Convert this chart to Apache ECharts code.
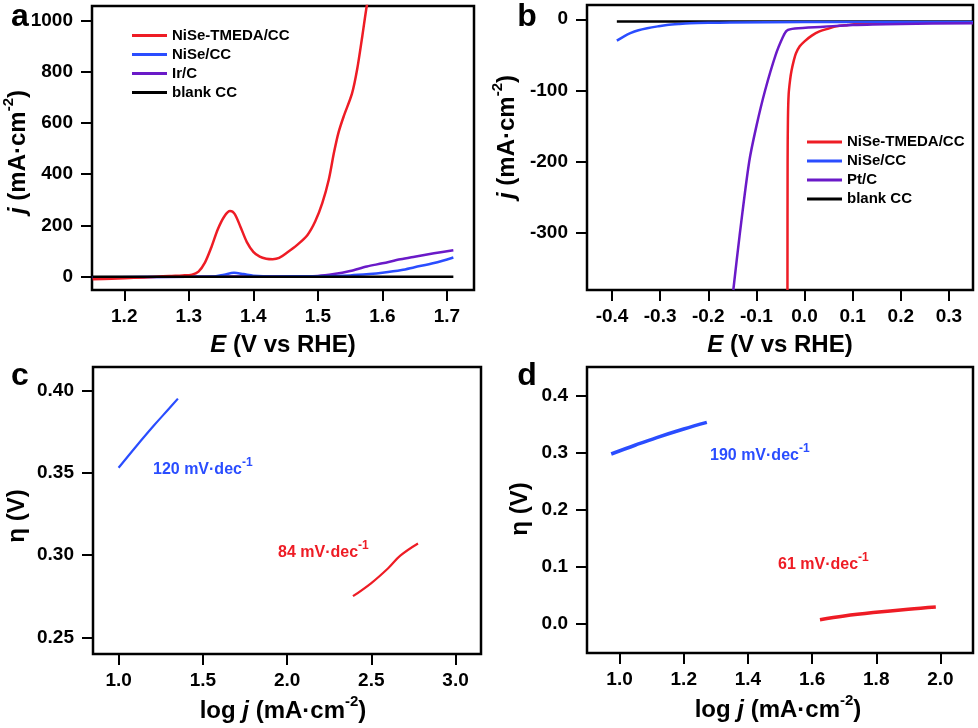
<!DOCTYPE html>
<html>
<head>
<meta charset="utf-8">
<script src="https://cdn.jsdelivr.net/npm/echarts@6/dist/echarts.min.js"></script>
<style>html,body{margin:0;padding:0;background:#fff;}#c{width:978px;height:728px;}</style>
</head>
<body>
<div id="c"></div>
<script>
// ---------- Panel a (OER LSV) ----------
const aRedE = [1.151,1.18,1.20,1.23,1.25,1.27,1.29,1.305,1.315,1.325,1.335,1.345,1.355,1.364,1.371,1.38,1.39,1.40,1.41,1.42,1.43,1.44,1.453,1.468,1.484,1.496,1.507,1.517,1.525,1.532,1.54,1.553,1.561,1.569,1.576,1.582];
const aRedJ = [-10,-8,-6,-3,0,3,5,8,20,55,115,185,235,256,245,195,135,97,78,70,68,73,95,124,163,216,288,379,484,562,625,715,810,940,1059,1130];
const aBlueE = [1.151,1.30,1.34,1.355,1.37,1.385,1.40,1.43,1.50,1.55,1.58,1.60,1.63,1.65,1.68,1.71];
const aBlueJ = [-2,0,1,8,15,10,4,1,2,5,10,15,26,37,53,75];
const aPurpE = [1.151,1.30,1.45,1.50,1.525,1.55,1.576,1.60,1.628,1.65,1.68,1.71];
const aPurpJ = [-3,0,1,3,10,22,40,52,68,78,91,103];
const aBlackE = [1.151,1.71];
const aBlackJ = [0,0];
const aXTicks = [1.2,1.3,1.4,1.5,1.6,1.7];
const aYTicks = [0,200,400,600,800,1000];

// ---------- Panel b (HER LSV) ----------
const bRedE = [-0.0355,-0.0352,-0.0345,-0.033,-0.030,-0.027,-0.022,-0.018,-0.010,0.0,0.015,0.031,0.05,0.0665,0.09,0.108,0.2,0.35];
const bRedJ = [-380,-200,-140,-105,-85,-72,-57,-48,-38,-31,-23,-17,-13,-10,-8,-6.6,-5,-4.5];
const bBlueE = [-0.39,-0.375,-0.362,-0.345,-0.327,-0.305,-0.286,-0.26,-0.238,-0.2,-0.155,0.0,0.35];
const bBlueJ = [-30,-24,-19.6,-15.5,-12.7,-10,-8,-6.5,-5.6,-5,-4.7,-4,-4];
const bPurpE = [-0.148,-0.135,-0.115,-0.1,-0.082,-0.06,-0.045,-0.037,-0.02,0.04,0.1,0.2,0.35];
const bPurpJ = [-380,-304,-200,-150,-100,-50,-25,-16,-13,-10.5,-8,-6.5,-5.5];
const bBlackE = [-0.39,0.35];
const bBlackJ = [-3,-3];
const bXTicks = [-0.4,-0.3,-0.2,-0.1,0.0,0.1,0.2,0.3];
const bYTicks = [-300,-200,-100,0];

// ---------- Panel c (OER Tafel) ----------
const cBlueX = [1.0,1.1,1.208,1.3,1.352];
const cBlueY = [0.353,0.3655,0.3785,0.389,0.395];
const cRedX = [2.391,2.5,2.6,2.672,2.777];
const cRedY = [0.275,0.283,0.292,0.2996,0.307];
const cXTicks = [1.0,1.5,2.0,2.5,3.0];
const cYTicks = [0.25,0.30,0.35,0.40];

// ---------- Panel d (HER Tafel) ----------
const dBlueX = [0.974,1.05,1.116,1.2,1.272];
const dBlueY = [0.2977,0.3135,0.3265,0.3415,0.3532];
const dRedX = [1.6246,1.7,1.7905,1.9,1.9856];
const dRedY = [0.007,0.0135,0.0195,0.0255,0.0293];
const dXTicks = [1.0,1.2,1.4,1.6,1.8,2.0];
const dYTicks = [0.0,0.1,0.2,0.3,0.4];

const RED = '#ee1c25', BLUE = '#2a4dff', PURP = '#6a1ac8', BLACK = '#000000';
const FONT = '"Liberation Sans", Arial, sans-serif';

function pairs(xs, ys){ return xs.map((x,i)=>[x, ys[i]]); }

function xAx(idx, min, max, ticks, fmt){
  return {type:'value', gridIndex: idx, min:min, max:max,
    axisLine:{show:false, onZero:false}, splitLine:{show:false},
    axisTick:{show:true, inside:false, length:11, lineStyle:{color:'#000', width:2}, customValues: ticks},
    axisLabel:{show:true, margin:17, color:'#000', fontFamily:FONT, fontWeight:'bold', fontSize:19, customValues: ticks, formatter: fmt}};
}
function yAx(idx, min, max, ticks, fmt){
  return {type:'value', gridIndex: idx, min:min, max:max,
    axisLine:{show:false, onZero:false}, splitLine:{show:false},
    axisTick:{show:true, inside:false, length:11, lineStyle:{color:'#000', width:2}, customValues: ticks},
    axisLabel:{show:true, margin:19, color:'#000', fontFamily:FONT, fontWeight:'bold', fontSize:19, customValues: ticks, formatter: fmt}};
}
function line(name, xi, data, color, width, sm){
  return {type:'line', name:name, xAxisIndex:xi, yAxisIndex:xi, data:data, showSymbol:false, symbol:'none',
    smooth:(sm === undefined ? 0.3 : sm), clip:true, lineStyle:{color:color, width:width}, itemStyle:{color:color}, emphasis:{disabled:true}};
}

const gridStyle = {show:true, borderColor:'#000', borderWidth:2.5, backgroundColor:'transparent'};

const titleRich = {
  i:{fontStyle:'italic', fontWeight:'bold', fontSize:24, fontFamily:FONT, fill:'#000'},
  sup:{fontWeight:'bold', fontSize:15, fontFamily:FONT, padding:[0,0,18,0], fill:'#000'}
};
function gtext(x, y, text, opts){
  opts = opts || {};
  return {type:'text', x:x, y:y, rotation: opts.rot || 0, z:100,
    style:{text:text, fill: opts.color || '#000', font: opts.font || ('bold 24px ' + FONT),
      align: opts.align || 'center', verticalAlign:'middle', rich: opts.rich || titleRich}};
}
const annRich = function(col){ return {
  sup:{fontWeight:'bold', fontSize:12, fontFamily:FONT, padding:[0,0,14,0], fill:col}
};};

const chart = echarts.init(document.getElementById('c'), null, {renderer:'canvas'});
chart.setOption({
  animation:false,
  backgroundColor:'#fff',
  textStyle:{fontFamily:FONT},
  grid:[
    Object.assign({left:92, top:6, width:382, height:284}, gridStyle),
    Object.assign({left:587, top:5, width:386, height:285}, gridStyle),
    Object.assign({left:93, top:367, width:388, height:287}, gridStyle),
    Object.assign({left:587, top:367, width:386, height:286}, gridStyle)
  ],
  xAxis:[
    xAx(0, 1.15, 1.742, aXTicks, v=>v.toFixed(1)),
    xAx(1, -0.452, 0.35, bXTicks, v=>v.toFixed(1)),
    xAx(2, 0.848, 3.151, cXTicks, v=>v.toFixed(1)),
    xAx(3, 0.8985, 2.1015, dXTicks, v=>v.toFixed(1))
  ],
  yAxis:[
    yAx(0, -52, 1056, aYTicks, v=>String(Math.round(v))),
    yAx(1, -380, 20, bYTicks, v=>String(Math.round(v))),
    yAx(2, 0.2399, 0.4142, cYTicks, v=>v.toFixed(2)),
    yAx(3, -0.0514, 0.4503, dYTicks, v=>v.toFixed(1))
  ],
  legend:[
    {data:['NiSe-TMEDA/CC','NiSe/CC','Ir/C','blank CC'], orient:'vertical', left:127, top:23, icon:'rect',
      itemWidth:35, itemHeight:3, itemGap:4, selectedMode:false,
      textStyle:{fontFamily:FONT, fontWeight:'bold', fontSize:15, color:'#000'}},
    {data:['NiSe-TMEDA/CC','NiSe/CC','Pt/C','blank CC'], orient:'vertical', left:802, top:129.5, icon:'rect',
      itemWidth:35, itemHeight:3, itemGap:4, selectedMode:false,
      textStyle:{fontFamily:FONT, fontWeight:'bold', fontSize:15, color:'#000'}}
  ],
  series:[
    line('Ir/C', 0, pairs(aPurpE, aPurpJ), PURP, 2.5),
    line('NiSe/CC', 0, pairs(aBlueE, aBlueJ), BLUE, 2.5),
    line('NiSe-TMEDA/CC', 0, pairs(aRedE, aRedJ), RED, 2.5),
    line('blank CC', 0, pairs(aBlackE, aBlackJ), BLACK, 2.5),
    line('blank CC', 1, pairs(bBlackE, bBlackJ), BLACK, 2.5),
    line('NiSe-TMEDA/CC', 1, pairs(bRedE, bRedJ), RED, 2.5),
    line('NiSe/CC', 1, pairs(bBlueE, bBlueJ), BLUE, 2.5),
    line('Pt/C', 1, pairs(bPurpE, bPurpJ), PURP, 2.5),
    line('', 2, pairs(cBlueX, cBlueY), BLUE, 2.2, 0.4),
    line('', 2, pairs(cRedX, cRedY), RED, 2.2, 0.4),
    line('', 3, pairs(dBlueX, dBlueY), BLUE, 3.5, 0.4),
    line('', 3, pairs(dRedX, dRedY), RED, 3.5, 0.4)
  ],
  graphic:[
    gtext(20, 17, 'a', {font:'bold 32px ' + FONT}),
    gtext(527, 17, 'b', {font:'bold 32px ' + FONT}),
    gtext(20, 376, 'c', {font:'bold 32px ' + FONT}),
    gtext(527, 376, 'd', {font:'bold 32px ' + FONT}),
    gtext(283, 345, '{i|E} (V vs RHE)'),
    gtext(780, 345, '{i|E} (V vs RHE)'),
    gtext(283, 711, 'log {i|j} (mA·cm{sup|-2})'),
    gtext(778, 710, 'log {i|j} (mA·cm{sup|-2})'),
    gtext(18, 152, '{i|j} (mA·cm{sup|-2})', {rot:Math.PI/2}),
    gtext(507, 137, '{i|j} (mA·cm{sup|-2})', {rot:Math.PI/2}),
    gtext(17, 516, 'η (V)', {rot:Math.PI/2}),
    gtext(520, 509, 'η (V)', {rot:Math.PI/2}),
    gtext(153, 470, '120 mV·dec{sup|-1}', {align:'left', color:BLUE, font:'bold 16px ' + FONT, rich:annRich(BLUE)}),
    gtext(278, 553, '84 mV·dec{sup|-1}', {align:'left', color:RED, font:'bold 16px ' + FONT, rich:annRich(RED)}),
    gtext(710, 456, '190 mV·dec{sup|-1}', {align:'left', color:BLUE, font:'bold 16px ' + FONT, rich:annRich(BLUE)}),
    gtext(778, 565, '61 mV·dec{sup|-1}', {align:'left', color:RED, font:'bold 16px ' + FONT, rich:annRich(RED)})
  ]
});
</script>
</body>
</html>
